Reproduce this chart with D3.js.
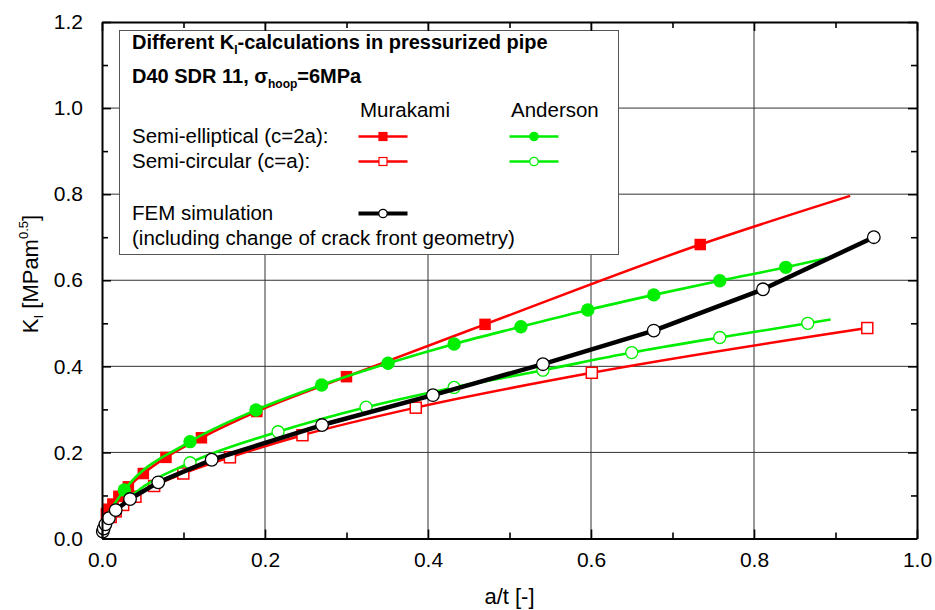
<!DOCTYPE html>
<html>
<head>
<meta charset="utf-8">
<script src="https://cdn.jsdelivr.net/npm/d3@7"></script>
<style>
  body { margin: 0; background: #fff; }
  svg { display: block; font-family: "Liberation Sans", Arial, sans-serif; }
</style>
</head>
<body>
<svg id="chart"></svg>
<script>
// values: [a/t, K_I, marker drawn (1) or line only (0)]
const murakamiElliptical = [
  [0.0054, 0.058, 1], [0.0085, 0.068, 1], [0.0133, 0.080, 1], [0.0207, 0.098, 1],
  [0.0323, 0.120, 1], [0.0507, 0.151, 1], [0.0785, 0.1885, 1], [0.122, 0.234, 1],
  [0.190, 0.295, 1], [0.300, 0.376, 1], [0.470, 0.4975, 1], [0.734, 0.683, 1],
  [0.918, 0.796, 0]
];
const murakamiCircular = [
  [0.0107, 0.050, 1], [0.0168, 0.063, 1], [0.026, 0.078, 1], [0.041, 0.097, 1],
  [0.064, 0.122, 1], [0.0998, 0.151, 1], [0.157, 0.1886, 1], [0.246, 0.240, 1],
  [0.385, 0.304, 1], [0.601, 0.385, 1], [0.939, 0.489, 1]
];
const andersonElliptical = [
  [0.003, 0.045, 0], [0.0274, 0.1127, 1], [0.108, 0.225, 1], [0.189, 0.2985, 1],
  [0.2695, 0.3566, 1], [0.351, 0.407, 1], [0.432, 0.452, 1], [0.514, 0.492, 1],
  [0.596, 0.531, 1], [0.677, 0.566, 1], [0.758, 0.599, 1], [0.839, 0.630, 1],
  [0.889, 0.651, 0]
];
const andersonCircular = [
  [0.003, 0.035, 0], [0.040, 0.105, 0], [0.108, 0.176, 1], [0.216, 0.248, 1],
  [0.324, 0.305, 1], [0.432, 0.351, 1], [0.541, 0.391, 1], [0.650, 0.432, 1],
  [0.758, 0.467, 1], [0.866, 0.500, 1], [0.894, 0.509, 0]
];
const femSimulation = [
  [0.001, 0.016, 1], [0.0021, 0.023, 1], [0.0042, 0.033, 1], [0.0084, 0.047, 1],
  [0.0168, 0.066, 1], [0.0344, 0.0917, 1], [0.069, 0.1305, 1], [0.1346, 0.183, 1],
  [0.270, 0.2636, 1], [0.406, 0.333, 1], [0.541, 0.405, 1], [0.677, 0.483, 1],
  [0.811, 0.579, 1], [0.947, 0.700, 1]
];

const xTicks = [0, 0.2, 0.4, 0.6, 0.8, 1.0];
const xMinor = [0.1, 0.3, 0.5, 0.7, 0.9];
const yTicks = [0, 0.2, 0.4, 0.6, 0.8, 1.0, 1.2];
const yMinor = [0.1, 0.3, 0.5, 0.7, 0.9, 1.1];

const RED = "#ff0000", GREEN = "#00ee00";

const width = 935, height = 610;
const margin = { top: 22, right: 18, bottom: 71.5, left: 102 };

const svg = d3.select("#chart")
  .attr("width", width)
  .attr("height", height);

const x = d3.scaleLinear().domain([0, 1]).range([margin.left, width - margin.right]);
const y = d3.scaleLinear().domain([0, 1.2]).range([height - margin.bottom, margin.top]);

// grid
svg.append("g")
  .selectAll("line.gx")
  .data(xTicks.slice(1, -1))
  .enter().append("line")
  .attr("x1", d => x(d)).attr("x2", d => x(d))
  .attr("y1", y(0)).attr("y2", y(1.2))
  .attr("stroke", "#333").attr("stroke-width", 1);

svg.append("g")
  .selectAll("line.gy")
  .data(yTicks.slice(1, -1))
  .enter().append("line")
  .attr("x1", x(0)).attr("x2", x(1))
  .attr("y1", d => y(d)).attr("y2", d => y(d))
  .attr("stroke", "#333").attr("stroke-width", 1);

// legend box sits over the grid
const lg = svg.append("g");
lg.append("rect")
  .attr("x", 119.5).attr("y", 30.5)
  .attr("width", 499).attr("height", 224)
  .attr("fill", "#fff").attr("stroke", "#555").attr("stroke-width", 1);

// series
function drawSeries(data, color, lineWidth, curve) {
  const line = d3.line()
    .x(d => x(d[0]))
    .y(d => y(d[1]))
    .curve(curve);
  svg.append("path")
    .datum(data)
    .attr("d", line)
    .attr("fill", "none")
    .attr("stroke", color)
    .attr("stroke-width", lineWidth)
    .attr("stroke-linejoin", "round");
  return svg.append("g").selectAll("x")
    .data(data.filter(d => d[2] === 1))
    .enter();
}

function squares(sel, color, filled) {
  const s = filled ? 11.5 : 11;
  sel.append("rect")
    .attr("x", d => x(d[0]) - s / 2)
    .attr("y", d => y(d[1]) - s / 2)
    .attr("width", s).attr("height", s)
    .attr("fill", filled ? color : "#fff")
    .attr("stroke", color)
    .attr("stroke-width", filled ? 0 : 1.5);
}

function circles(sel, color, filled, r, stroke) {
  sel.append("circle")
    .attr("cx", d => x(d[0]))
    .attr("cy", d => y(d[1]))
    .attr("r", r)
    .attr("fill", filled ? color : "#fff")
    .attr("stroke", stroke || color)
    .attr("stroke-width", filled ? 0 : 1.3);
}

squares(drawSeries(murakamiCircular, RED, 2.5, d3.curveMonotoneX), RED, false);
squares(drawSeries(murakamiElliptical, RED, 2.5, d3.curveMonotoneX), RED, true);
circles(drawSeries(andersonCircular, GREEN, 2.6, d3.curveMonotoneX), GREEN, false, 6);
circles(drawSeries(andersonElliptical, GREEN, 2.6, d3.curveMonotoneX), GREEN, true, 6.7);
circles(drawSeries(femSimulation, "#000", 4.5, d3.curveLinear), "#000", false, 6.3, "#000");

// axes with inward ticks on all four sides
const fmt = d3.format(".1f");
function styleAxis(g) {
  g.select(".domain").attr("stroke-width", 2);
  g.selectAll(".tick line").attr("stroke-width", 1.6);
  g.selectAll("text").attr("font-size", 21).attr("fill", "#000")
    .attr("font-family", "'Liberation Sans', Arial, sans-serif");
}

svg.append("g")
  .attr("transform", `translate(0,${y(0)})`)
  .call(d3.axisBottom(x).tickValues(xTicks).tickSize(-9).tickSizeOuter(0).tickPadding(14).tickFormat(fmt))
  .call(styleAxis);
svg.append("g")
  .attr("transform", `translate(0,${y(0)})`)
  .call(d3.axisBottom(x).tickValues(xMinor).tickSize(-6).tickFormat(""))
  .call(g => g.select(".domain").remove())
  .call(styleAxis);

svg.append("g")
  .attr("transform", `translate(0,${y(1.2)})`)
  .call(d3.axisTop(x).tickValues(xTicks).tickSize(-9).tickSizeOuter(0).tickFormat(""))
  .call(styleAxis);
svg.append("g")
  .attr("transform", `translate(0,${y(1.2)})`)
  .call(d3.axisTop(x).tickValues(xMinor).tickSize(-6).tickFormat(""))
  .call(g => g.select(".domain").remove())
  .call(styleAxis);

svg.append("g")
  .attr("transform", `translate(${x(0)},0)`)
  .call(d3.axisLeft(y).tickValues(yTicks).tickSize(-9).tickSizeOuter(0).tickPadding(19).tickFormat(fmt))
  .call(styleAxis);
svg.append("g")
  .attr("transform", `translate(${x(0)},0)`)
  .call(d3.axisLeft(y).tickValues(yMinor).tickSize(-6).tickFormat(""))
  .call(g => g.select(".domain").remove())
  .call(styleAxis);

svg.append("g")
  .attr("transform", `translate(${x(1)},0)`)
  .call(d3.axisRight(y).tickValues(yTicks).tickSize(-9).tickSizeOuter(0).tickFormat(""))
  .call(styleAxis);
svg.append("g")
  .attr("transform", `translate(${x(1)},0)`)
  .call(d3.axisRight(y).tickValues(yMinor).tickSize(-6).tickFormat(""))
  .call(g => g.select(".domain").remove())
  .call(styleAxis);

// axis titles
svg.append("text")
  .attr("x", (x(0) + x(1)) / 2)
  .attr("y", 604)
  .attr("text-anchor", "middle")
  .attr("font-size", 22)
  .text("a/t [-]");

const yl = svg.append("text")
  .attr("transform", "translate(38,274) rotate(-90)")
  .attr("text-anchor", "middle")
  .attr("font-size", 22);
yl.append("tspan").text("K");
yl.append("tspan").attr("font-size", 13).attr("dy", 5).text("I");
yl.append("tspan").attr("dy", -5).text(" [MPam");
yl.append("tspan").attr("font-size", 13).attr("dy", -10).text("0.5");
yl.append("tspan").attr("dy", 10).text("]");

// legend text
const t1 = lg.append("text")
  .attr("x", 132).attr("y", 49)
  .attr("font-size", 20).attr("font-weight", "bold");
t1.append("tspan").text("Different K");
t1.append("tspan").attr("font-size", 12).attr("dy", 5).text("I");
t1.append("tspan").attr("dy", -5).text("-calculations in pressurized pipe");

const t2 = lg.append("text")
  .attr("x", 132).attr("y", 83)
  .attr("font-size", 20).attr("font-weight", "bold");
t2.append("tspan").text("D40 SDR 11, σ");
t2.append("tspan").attr("font-size", 12).attr("dy", 5).text("hoop");
t2.append("tspan").attr("dy", -5).text("=6MPa");

const legendRows = [
  { text: "Murakami", x: 360, y: 117 },
  { text: "Anderson", x: 511, y: 117 },
  { text: "Semi-elliptical (c=2a):", x: 132, y: 143 },
  { text: "Semi-circular (c=a):", x: 132, y: 168 },
  { text: "FEM simulation", x: 132, y: 220 },
  { text: "(including change of crack front geometry)", x: 132, y: 245 }
];
lg.selectAll("text.row")
  .data(legendRows)
  .enter().append("text")
  .attr("x", d => d.x).attr("y", d => d.y)
  .attr("font-size", 20.5)
  .text(d => d.text);

// legend samples
const samples = [
  { cx: 383, cy: 136.5, color: RED, w: 2.7, mark: "sq", fill: RED },
  { cx: 383, cy: 161.5, color: RED, w: 2.7, mark: "sq", fill: "#fff" },
  { cx: 534, cy: 136.5, color: GREEN, w: 2.7, mark: "ci", fill: GREEN },
  { cx: 534, cy: 161.5, color: GREEN, w: 2.7, mark: "ci", fill: "#fff" },
  { cx: 383, cy: 213.5, color: "#000", w: 4, mark: "ci", fill: "#fff" }
];
samples.forEach(s => {
  lg.append("line")
    .attr("x1", s.cx - 24.5).attr("x2", s.cx + 24.5)
    .attr("y1", s.cy).attr("y2", s.cy)
    .attr("stroke", s.color).attr("stroke-width", s.w);
  if (s.mark === "sq") {
    lg.append("rect")
      .attr("x", s.cx - 4).attr("y", s.cy - 4)
      .attr("width", 8).attr("height", 8)
      .attr("fill", s.fill).attr("stroke", s.color).attr("stroke-width", 1.2);
  } else {
    lg.append("circle")
      .attr("cx", s.cx).attr("cy", s.cy).attr("r", 4.2)
      .attr("fill", s.fill).attr("stroke", s.color).attr("stroke-width", 1.2);
  }
});
</script>
</body>
</html>
